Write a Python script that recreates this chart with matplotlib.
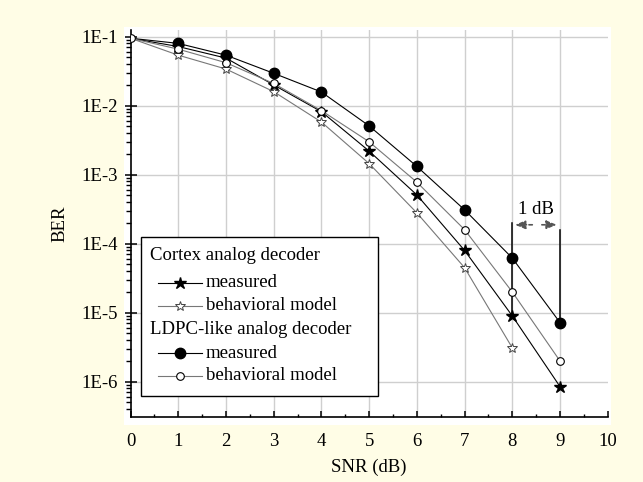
import matplotlib
matplotlib.use("Agg")
import matplotlib.pyplot as plt
from matplotlib.lines import Line2D
from matplotlib.patches import Rectangle
from matplotlib.ticker import FixedLocator, FixedFormatter, LogLocator, NullFormatter, MultipleLocator

# ---- data ----
snr_full = [0, 1, 2, 3, 4, 5, 6, 7, 8, 9]
snr_model_cortex = [0, 1, 2, 3, 4, 5, 6, 7, 8]
cortex_measured = [0.095, 0.072, 0.049, 0.020, 0.0082, 0.0022, 5.1e-4, 8.0e-5, 9.0e-6, 8.5e-7]
cortex_model = [0.095, 0.054, 0.034, 0.016, 0.0058, 0.00145, 2.8e-4, 4.5e-5, 3.1e-6]
ldpc_measured = [0.095, 0.080, 0.054, 0.0295, 0.0158, 0.0051, 1.32e-3, 3.1e-4, 6.2e-5, 7.2e-6]
ldpc_model = [0.095, 0.066, 0.042, 0.021, 0.0085, 0.0030, 7.8e-4, 1.6e-4, 2.0e-5, 2.0e-6]

ytick_vals = [1e-6, 1e-5, 1e-4, 1e-3, 1e-2, 1e-1]
ytick_labels = ["1E-6", "1E-5", "1E-4", "1E-3", "1E-2", "1E-1"]
xtick_vals = [0, 1, 2, 3, 4, 5, 6, 7, 8, 9, 10]

group1_title = "Cortex analog decoder"
group2_title = "LDPC-like analog decoder"
entry_labels = ["measured", "behavioral model"]

plt.rcParams['font.family'] = ['Liberation Serif', 'DejaVu Serif']

FS = 13.5
BG = '#FFFDE6'
fig = plt.figure(figsize=(6.43, 4.82), dpi=100, facecolor=BG)

W, H = 643.0, 482.0
ax_l, ax_r, ax_t, ax_b = 130.5, 607.7, 30.0, 416.7
# white plot backdrop (slightly larger than axes)
fig.patches.append(Rectangle((124 / W, 1 - 425 / H), (611 - 124) / W, (425 - 26.7) / H,
                             transform=fig.transFigure, facecolor='white', edgecolor='none', zorder=-5))

ax = fig.add_axes([ax_l / W, 1 - ax_b / H, (ax_r - ax_l) / W, (ax_b - ax_t) / H])
ax.set_zorder(2)
ax.set_facecolor('white')
ax.set_yscale('log')
ax.set_xlim(0, 10)
ax.set_ylim(10 ** -6.507, 10 ** -0.903)

for s in ['top', 'right']:
    ax.spines[s].set_visible(False)
for s in ['left', 'bottom']:
    ax.spines[s].set_linewidth(1.2)

# grid
for xv in xtick_vals[1:-1]:
    ax.axvline(xv, color='#CFCFCF', lw=1.0, zorder=0)
for yv in ytick_vals:
    ax.axhline(yv, color='#CFCFCF', lw=1.0, zorder=0)

# ticks
ax.yaxis.set_major_locator(FixedLocator(ytick_vals))
ax.yaxis.set_major_formatter(FixedFormatter(ytick_labels))
ax.yaxis.set_minor_locator(LogLocator(base=10, subs=[2, 3, 4, 5, 6, 7, 8, 9], numticks=20))
ax.yaxis.set_minor_formatter(NullFormatter())
ax.xaxis.set_major_locator(FixedLocator(xtick_vals))
ax.xaxis.set_minor_locator(MultipleLocator(0.5))
ax.tick_params(axis='y', which='major', direction='inout', length=8.5, width=1.1, pad=5, labelsize=FS)
ax.tick_params(axis='y', which='minor', direction='out', length=3.5, width=1.0)
ax.tick_params(axis='x', which='major', direction='in', length=4, width=1.1, pad=12, labelsize=FS)
ax.tick_params(axis='x', which='minor', direction='in', length=2.5, width=1.0)

ax.set_xlabel("SNR (dB)", fontsize=FS, labelpad=6)
ax.set_ylabel("BER", fontsize=FS, labelpad=9)

GRAY = '#777777'
skip_first = slice(1, None)
ax.plot(snr_full, cortex_measured, color='black', lw=0.8, marker='*', ms=9,
        mfc='black', mec='black', markevery=skip_first, zorder=3)
ax.plot(snr_model_cortex, cortex_model, color=GRAY, lw=0.8, marker='*', ms=7.5,
        mfc='white', mec='#444444', mew=0.7, markevery=skip_first, zorder=3)
ax.plot(snr_full, ldpc_measured, color='black', lw=0.8, marker='o', ms=7.5,
        mfc='black', mec='black', markevery=skip_first, zorder=3)
ax.plot(snr_full, ldpc_model, color=GRAY, lw=0.8, marker='o', ms=5.5,
        mfc='white', mec='black', mew=0.8, zorder=4)

# 1 dB annotation
ax.plot([8, 8], [2.0e-4, cortex_measured[8]], color='black', lw=1.1, zorder=2)
ax.plot([9, 9], [1.6e-4, ldpc_measured[9]], color='black', lw=1.1, zorder=2)
ax.text(8.5, 3.1e-4, "1 dB", ha='center', va='center', fontsize=FS)
arrow_y = 1.88e-4
ax.annotate('', xy=(8.06, arrow_y), xytext=(8.42, arrow_y),
            arrowprops=dict(arrowstyle='-|>,head_length=0.6,head_width=0.25', color='#555555',
                            lw=1.2, linestyle=(0, (2, 1.5)), shrinkA=0, shrinkB=0))
ax.annotate('', xy=(8.93, arrow_y), xytext=(8.62, arrow_y),
            arrowprops=dict(arrowstyle='-|>,head_length=0.6,head_width=0.25', color='#555555',
                            lw=1.2, linestyle=(0, (2, 1.5)), shrinkA=0, shrinkB=0))

# manual legend
def axf(px, py):
    return ((px - ax_l) / (ax_r - ax_l), (ax_b - py) / (ax_b - ax_t))

bx0, by0 = axf(141, 395.7)
bx1, by1 = axf(378.3, 237.3)
ax.add_patch(Rectangle((bx0, by0), bx1 - bx0, by1 - by0, transform=ax.transAxes,
                       facecolor='white', edgecolor='black', lw=1.0, zorder=5))

hx0, _ = axf(158, 0)
hx1, _ = axf(202, 0)
hxc, _ = axf(180, 0)
tx, _ = axf(206, 0)
ttx, _ = axf(150, 0)

rows = [
    ('title', group1_title, 255, None),
    ('entry', entry_labels[0], 282.7, dict(color='black', marker='*', ms=9, mfc='black', mec='black')),
    ('entry', entry_labels[1], 306, dict(color=GRAY, marker='*', ms=7.5, mfc='white', mec='#444444', mew=0.7)),
    ('title', group2_title, 330, None),
    ('entry', entry_labels[0], 353, dict(color='black', marker='o', ms=7.5, mfc='black', mec='black')),
    ('entry', entry_labels[1], 375.7, dict(color=GRAY, marker='o', ms=5.5, mfc='white', mec='black', mew=0.8)),
]
for kind, label, py, st in rows:
    _, yy = axf(0, py)
    if kind == 'title':
        ax.text(ttx, yy, label, transform=ax.transAxes, ha='left', va='center', fontsize=FS, zorder=6)
    else:
        st = dict(st)
        ax.add_line(Line2D([hx0, hx1], [yy, yy], transform=ax.transAxes, lw=0.8,
                           color=st.pop('color'), zorder=6))
        ax.add_line(Line2D([hxc], [yy], transform=ax.transAxes, linestyle='none', zorder=7, **st))
        ax.text(tx, yy, label, transform=ax.transAxes, ha='left', va='center', fontsize=FS, zorder=6)

fig.savefig("out.png", dpi=100, facecolor=BG)
